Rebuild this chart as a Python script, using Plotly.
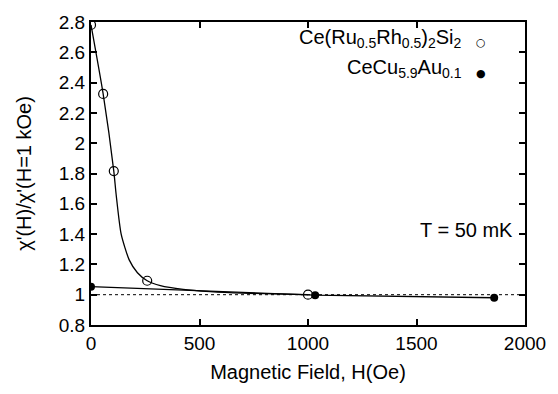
import plotly.graph_objects as go

# Ce(Ru0.5Rh0.5)2Si2 data (open circles)
ru_field = [0, 56, 105, 259, 1000]
ru_chi = [2.781, 2.325, 1.816, 1.092, 1.0]

# Smooth fit curve drawn through the Ru data
ru_fit_field = [0, 56, 105, 116, 139, 176, 214, 259, 320, 425, 550, 700, 1000]
ru_fit_chi = [2.781, 2.325, 1.816, 1.66, 1.40, 1.23, 1.145, 1.092, 1.06, 1.035, 1.02, 1.01, 1.0]

# CeCu5.9Au0.1 data (filled circles)
au_field = [0, 1033, 1858]
au_chi = [1.053, 0.997, 0.98]

x_ticks = [0, 500, 1000, 1500, 2000]
y_ticks = [0.8, 1.0, 1.2, 1.4, 1.6, 1.8, 2.0, 2.2, 2.4, 2.6, 2.8]
y_ticktext = ["0.8", "1", "1.2", "1.4", "1.6", "1.8", "2", "2.2", "2.4", "2.6", "2.8"]

FONT = "Liberation Sans, Arial, Helvetica, sans-serif"

fig = go.Figure()

fig.add_hline(y=1.0, line=dict(color="black", width=1, dash="dot"), layer="below")

fig.add_trace(go.Scatter(
    x=ru_fit_field, y=ru_fit_chi, mode="lines",
    line=dict(color="black", width=1.3, shape="spline", smoothing=0.6),
    showlegend=False, hoverinfo="skip"))

fig.add_trace(go.Scatter(
    x=au_field, y=au_chi, mode="lines",
    line=dict(color="black", width=1.3),
    showlegend=False, hoverinfo="skip"))

fig.add_trace(go.Scatter(
    x=ru_field, y=ru_chi, mode="markers",
    marker=dict(symbol="circle-open", size=9, color="black", line=dict(width=1.2)),
    name="Ce(Ru0.5Rh0.5)2Si2", showlegend=False))

fig.add_trace(go.Scatter(
    x=au_field, y=au_chi, mode="markers",
    marker=dict(symbol="circle", size=8, color="black"),
    name="CeCu5.9Au0.1", showlegend=False))

axis_common = dict(
    showline=True, linecolor="black", linewidth=2, mirror="ticks",
    ticks="inside", ticklen=6, tickwidth=1.5, tickcolor="black",
    showgrid=False, zeroline=False,
    tickfont=dict(family=FONT, size=19, color="black"),
)

fig.update_xaxes(
    range=[0, 2000], tickvals=x_ticks,
    title=dict(text="Magnetic Field, H(Oe)", font=dict(family=FONT, size=20, color="black"), standoff=12),
    **axis_common)
fig.update_yaxes(
    range=[0.8, 2.8], tickvals=y_ticks, ticktext=y_ticktext,
    title=dict(text="χ'(H)/χ'(H=1 kOe)", font=dict(family=FONT, size=20, color="black"), standoff=22),
    **axis_common)

ann_font = dict(family=FONT, size=20, color="black")
fig.add_annotation(xref="paper", yref="paper", x=0.86, y=0.945, xanchor="right", yanchor="middle",
                   text="Ce(Ru<sub>0.5</sub>Rh<sub>0.5</sub>)<sub>2</sub>Si<sub>2</sub>", showarrow=False, font=ann_font)
fig.add_annotation(xref="paper", yref="paper", x=0.86, y=0.845, xanchor="right", yanchor="middle",
                   text="CeCu<sub>5.9</sub>Au<sub>0.1</sub>", showarrow=False, font=ann_font)
fig.add_annotation(xref="paper", yref="paper", x=0.899, y=0.931, xanchor="center", yanchor="middle",
                   text="○", showarrow=False, font=dict(family="DejaVu Sans", size=11, color="black"))
fig.add_annotation(xref="paper", yref="paper", x=0.899, y=0.831, xanchor="center", yanchor="middle",
                   text="●", showarrow=False, font=dict(family="DejaVu Sans", size=11, color="black"))
fig.add_annotation(xref="paper", yref="paper", x=0.978, y=0.313, xanchor="right", yanchor="middle",
                   text="T = 50 mK", showarrow=False, font=ann_font)

fig.update_layout(
    width=558, height=394,
    margin=dict(l=91, r=25, t=12, b=69),
    paper_bgcolor="white", plot_bgcolor="white",
    font=dict(family=FONT, color="black"),
)

fig.write_html("out.html")
